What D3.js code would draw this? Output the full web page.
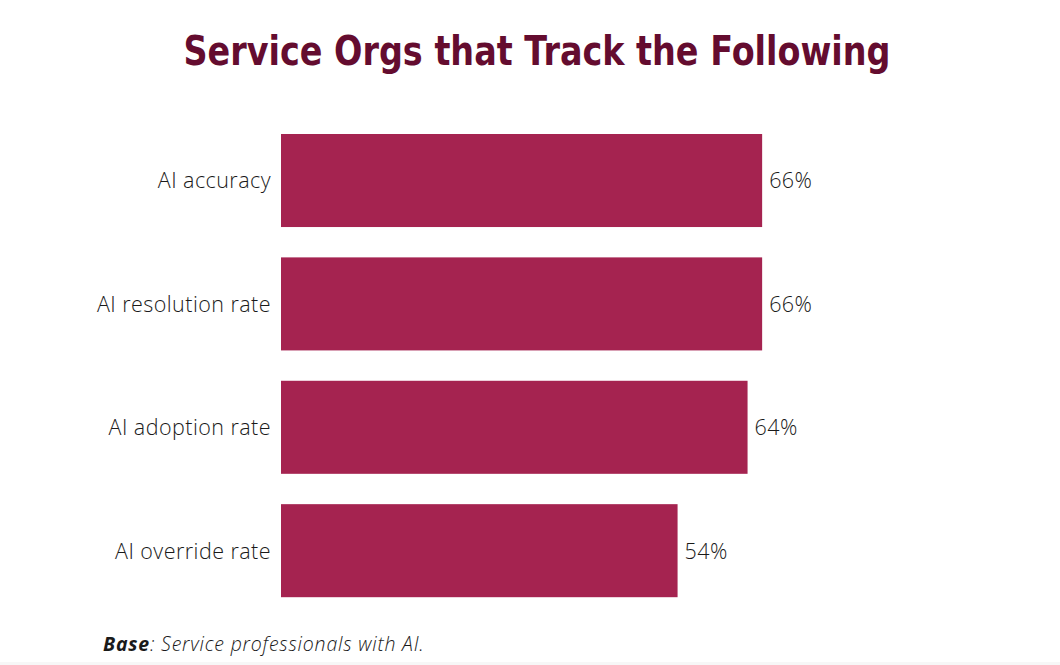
<!DOCTYPE html>
<html>
<head>
<meta charset="utf-8">
<script src="https://cdn.jsdelivr.net/npm/d3@7"></script>
<style>
  body { margin: 0; background: #fff; }
  svg { display: block; }
</style>
</head>
<body>
<svg id="chart" width="1060" height="665"></svg>
<script>
// values
const categories = ["AI accuracy", "AI resolution rate", "AI adoption rate", "AI override rate"]
const values = [66, 66, 64, 54.4]
const valueLabels = ["66%", "66%", "64%", "54%"]

const width = 1060, height = 665
const svg = d3.select("#chart")

// faint strip at the very bottom
svg.append("rect")
    .attr("x", 0).attr("y", 662)
    .attr("width", width).attr("height", 3)
    .attr("fill", "#f7f7f7")

svg.append("text")
    .attr("x", 537)
    .attr("y", 65)
    .attr("text-anchor", "middle")
    .attr("font-family", "'DejaVu Sans', sans-serif")
    .attr("font-weight", "bold")
    .attr("font-size", 41)
    .attr("fill", "#640c2f")
    .attr("textLength", 707)
    .attr("lengthAdjust", "spacingAndGlyphs")
    .text("Service Orgs that Track the Following")

let x = d3.scaleLinear()
    .domain([0, 100])
    .range([281, 281 + 729])

let y = d3.scaleBand()
    .domain(categories)
    .range([134, 597.2])
    .paddingInner(0.246)
    .paddingOuter(0)

let rows = categories.map((c, i) => ({cat: c, value: values[i], label: valueLabels[i]}))

svg.append("g")
    .selectAll("rect")
    .data(rows)
    .join("rect")
        .attr("x", x(0))
        .attr("y", d => y(d.cat))
        .attr("width", d => x(d.value) - x(0))
        .attr("height", y.bandwidth())
        .attr("fill", "#a52350")

// category labels
svg.append("g")
    .selectAll("text")
    .data(rows)
    .join("text")
        .attr("x", x(0) - 10)
        .attr("y", d => y(d.cat) + y.bandwidth() / 2)
        .attr("dy", "0.37em")
        .attr("text-anchor", "end")
        .attr("font-family", "'Open Sans', sans-serif")
        .attr("font-weight", 300)
        .attr("font-size", 21.5)
        .attr("letter-spacing", 0.45)
        .attr("fill", "#1a1a1a")
        .text(d => d.cat)

// value labels
svg.append("g")
    .selectAll("text")
    .data(rows)
    .join("text")
        .attr("x", d => x(d.value) + 7)
        .attr("y", d => y(d.cat) + y.bandwidth() / 2)
        .attr("dy", "0.37em")
        .attr("font-family", "'Open Sans', sans-serif")
        .attr("font-weight", 300)
        .attr("font-size", 21.5)
        .attr("letter-spacing", 0.45)
        .attr("fill", "#1a1a1a")
        .text(d => d.label)

let foot = svg.append("text")
    .attr("x", 103)
    .attr("y", 651)
    .attr("font-family", "'Open Sans', sans-serif")
    .attr("font-style", "italic")
    .attr("font-size", 19.5)
    .attr("letter-spacing", 0.8)
    .attr("fill", "#1a1a1a")
foot.append("tspan").attr("font-weight", "bold").text("Base")
foot.append("tspan").attr("font-weight", 300).text(": Service professionals with AI.")
</script>
</body>
</html>
